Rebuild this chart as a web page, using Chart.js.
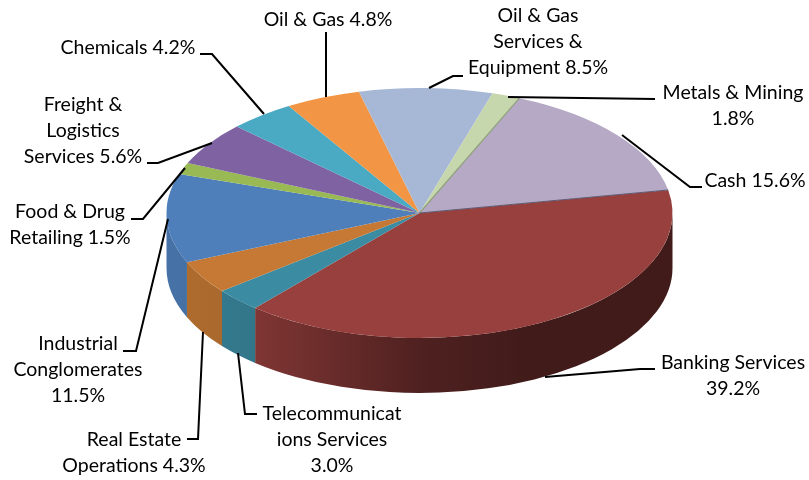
<!DOCTYPE html>
<html>
<head>
<meta charset="utf-8">
<style>
  html, body { margin: 0; padding: 0; background: #fff; }
  canvas { display: block; }
</style>
<script src="https://cdn.jsdelivr.net/npm/chart.js@4/dist/chart.umd.min.js"></script>
</head>
<body>
<canvas id="myChart" width="809" height="480"></canvas>
<script>
'use strict';

//Chart data
var categories = ['Banking Services', 'Telecommunications Services', 'Real Estate Operations', 'Industrial Conglomerates', 'Food & Drug Retailing', 'Freight & Logistics Services', 'Chemicals', 'Oil & Gas', 'Oil & Gas Services & Equipment', 'Metals & Mining', 'Cash'];
var values = [39.2, 3.0, 4.3, 11.5, 1.5, 5.6, 4.2, 4.8, 8.5, 1.8, 15.6];
var sliceColors = ['#98403e', '#3b8ca3', '#c57934', '#4e7fba', '#98b954', '#7f62a1', '#4aa9c3', '#f29645', '#a7b7d6', '#c6d6ad', '#b5a9c6'];

//Label text, wrapped the way the original wraps it
var labelLines = [
  ['Banking Services', '39.2%'],
  ['Telecommunicat', 'ions Services', '3.0%'],
  ['Real Estate', 'Operations 4.3%'],
  ['Industrial', 'Conglomerates', '11.5%'],
  ['Food & Drug', 'Retailing 1.5%'],
  ['Freight &', 'Logistics', 'Services 5.6%'],
  ['Chemicals 4.2%'],
  ['Oil & Gas 4.8%'],
  ['Oil & Gas', 'Services &', 'Equipment 8.5%'],
  ['Metals & Mining', '1.8%'],
  ['Cash 15.6%']
];
//centre x, and y of first line middle
var labelAnchors = [[733, 363], [332, 414], [134, 440], [78, 344], [70, 212], [83, 105], [128, 48], [328, 20], [538, 16], [733, 93], [755, 181]];
//leader lines, label end first
var leaders = [
  [[655, 369], [640, 369], [545, 377]],
  [[257, 414], [245, 414], [238, 353]],
  [[187, 439], [198, 439], [203, 332]],
  [[123, 351], [136, 351], [168, 219]],
  [[131, 219], [143, 219], [185, 168]],
  [[147, 163], [158, 163], [212, 143]],
  [[200, 54], [212, 54], [264, 114]],
  [[326, 32], [326, 97]],
  [[463, 76], [453, 76], [429, 88]],
  [[655, 99], [508, 97]],
  [[702, 187], [690, 187], [622, 135]]
];

//3D look
var tilt = 0.494;
var depth = 55;
var wallShade = [[0, 0.9], [0.17, 0.84], [0.5, 0.52], [0.72, 0.42], [1, 0.42]];

function darken(hex, f) {
  var n = parseInt(hex.slice(1), 16);
  var r = Math.round((n >> 16) * f);
  var g = Math.round(((n >> 8) & 255) * f);
  var b = Math.round((n & 255) * f);
  return 'rgb(' + r + ',' + g + ',' + b + ')';
}

var pie3d = {
  id: 'pie3d',
  beforeDatasetsDraw: function (chart) {
    var ctx = chart.ctx;
    var arcs = chart.getDatasetMeta(0).data;
    var cx = arcs[0].x;
    var cy = arcs[0].y;
    var r = arcs[0].outerRadius;
    ctx.save();
    //side wall, only the front half of the pie shows
    arcs.forEach(function (arc, i) {
      var s = Math.max(arc.startAngle, 0);
      var e = Math.min(arc.endAngle, Math.PI);
      if (e <= s) return;
      var grad = ctx.createLinearGradient(cx - r, 0, cx + r, 0);
      wallShade.forEach(function (stop) {
        grad.addColorStop(stop[0], darken(sliceColors[i], stop[1]));
      });
      ctx.beginPath();
      ctx.ellipse(cx, cy, r, r * tilt, 0, s, e);
      ctx.ellipse(cx, cy + depth, r, r * tilt, 0, e, s, true);
      ctx.closePath();
      ctx.fillStyle = grad;
      ctx.fill();
    });
    ctx.restore();
    //squash the flat pie into an ellipse
    ctx.save();
    ctx.translate(cx, cy);
    ctx.scale(1, tilt);
    ctx.translate(-cx, -cy);
  },
  afterDatasetsDraw: function (chart) {
    var ctx = chart.ctx;
    ctx.restore();
    var arcs = chart.getDatasetMeta(0).data;
    //dark rim where the raised slices meet at the back
    ctx.save();
    ctx.lineWidth = 1.2;
    [[9, '#8fa079'], [10, '#5f5a72']].forEach(function (edge) {
      var arc = arcs[edge[0]];
      ctx.strokeStyle = edge[1];
      ctx.beginPath();
      ctx.moveTo(arc.x, arc.y);
      ctx.lineTo(arc.x + arc.outerRadius * Math.cos(arc.endAngle), arc.y + arc.outerRadius * tilt * Math.sin(arc.endAngle));
      ctx.stroke();
    });
    ctx.restore();
  },
  afterDraw: function (chart) {
    var ctx = chart.ctx;
    ctx.save();
    ctx.strokeStyle = '#000';
    ctx.lineWidth = 2;
    leaders.forEach(function (pts) {
      ctx.beginPath();
      pts.forEach(function (p, i) {
        if (i === 0) ctx.moveTo(p[0], p[1]);
        else ctx.lineTo(p[0], p[1]);
      });
      ctx.stroke();
    });
    ctx.fillStyle = '#000';
    ctx.font = '19.5px Lato';
    ctx.textAlign = 'center';
    ctx.textBaseline = 'middle';
    labelLines.forEach(function (lines, i) {
      lines.forEach(function (line, j) {
        ctx.fillText(line, labelAnchors[i][0], labelAnchors[i][1] + j * 26);
      });
    });
    ctx.restore();
  }
};

var ctx = document.getElementById('myChart').getContext('2d');
var chart = new Chart(ctx, {
  type: 'pie',
  data: {
    labels: categories,
    datasets: [{
      data: values,
      backgroundColor: sliceColors,
      borderWidth: 0,
      radius: 253,
      clip: false
    }]
  },
  options: {
    responsive: false,
    animation: false,
    rotation: 79.4,
    layout: { padding: { left: 30, bottom: 54 } },
    plugins: { legend: { display: false }, tooltip: { enabled: false } }
  },
  plugins: [pie3d]
});
</script>
</body>
</html>
